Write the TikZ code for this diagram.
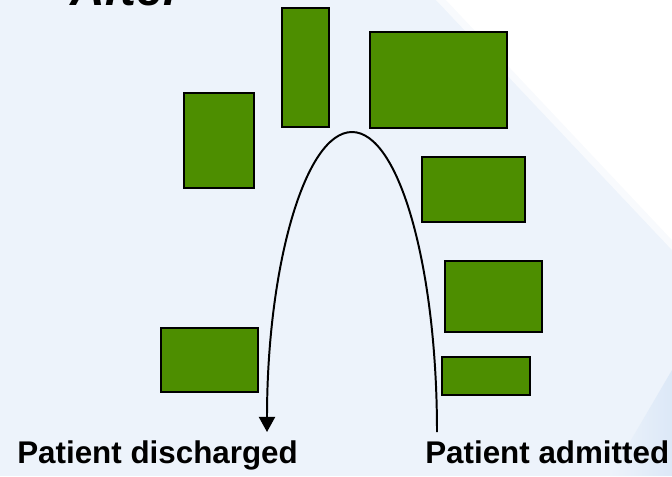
\documentclass[tikz,border=0pt]{standalone}
\usepackage{fontspec}
\setmainfont{Liberation Sans}
\usepackage{tikz}
\usetikzlibrary{positioning,calc,arrows.meta}
\definecolor{bedgreen}{RGB}{77,142,0}
\definecolor{slideblue}{RGB}{237,243,251}
\definecolor{slideshade}{RGB}{220,232,247}
\tikzstyle{bed} = [draw=black, line width=1.4pt, fill=bedgreen]
\tikzstyle{patienttext} = [font=\fontsize{22.3}{26}\selectfont\bfseries, inner sep=0pt, anchor=base west]
\tikzstyle{flow} = [line width=1.4pt, -{Triangle[length=10.7pt,width=11.4pt]}]

\begin{document}
\begin{tikzpicture}[x=0.025cm, y=0.025cm]
        \useasboundingbox (0,0) rectangle (672,-476);
        % slide background
        \fill[slideblue] (0,0) rectangle (672,-476);
        \fill[white!60!slideblue] (436,0) -- (672,0) -- (672,-250) -- cycle;
        \fill[white] (446,0) -- (672,0) -- (672,-240) -- cycle;
        \shade[left color=slideblue, right color=slideshade] (610,-476) -- (672,-370) -- (672,-476) -- cycle;
        % title, cut off at the top
        \node[font=\fontsize{34}{40}\selectfont\bfseries\itshape, inner sep=0pt, anchor=base west] (title) at (70,-5) {After};
        % beds
        \draw[bed] (184,-93) rectangle (254,-188);
        \draw[bed] (282,-8) rectangle (329,-127);
        \draw[bed] (370,-32) rectangle (507,-128);
        \draw[bed] (422,-157) rectangle (525,-222);
        \draw[bed] (445,-261) rectangle (542,-332);
        \draw[bed] (442,-357) rectangle (530,-395);
        \draw[bed] (161,-328) rectangle (258,-392);
        % patient path
        \coordinate (admit) at (437,-432);
        \coordinate (discharge) at (267,-432);
        \draw[flow] (admit) arc[start angle=0, end angle=180, x radius=85, y radius=300];
        \node[patienttext] (out) at (17,-463) {Patient discharged};
        \node[patienttext] (in) at (425,-463) {Patient admitted};
    \end{tikzpicture}
\end{document}
